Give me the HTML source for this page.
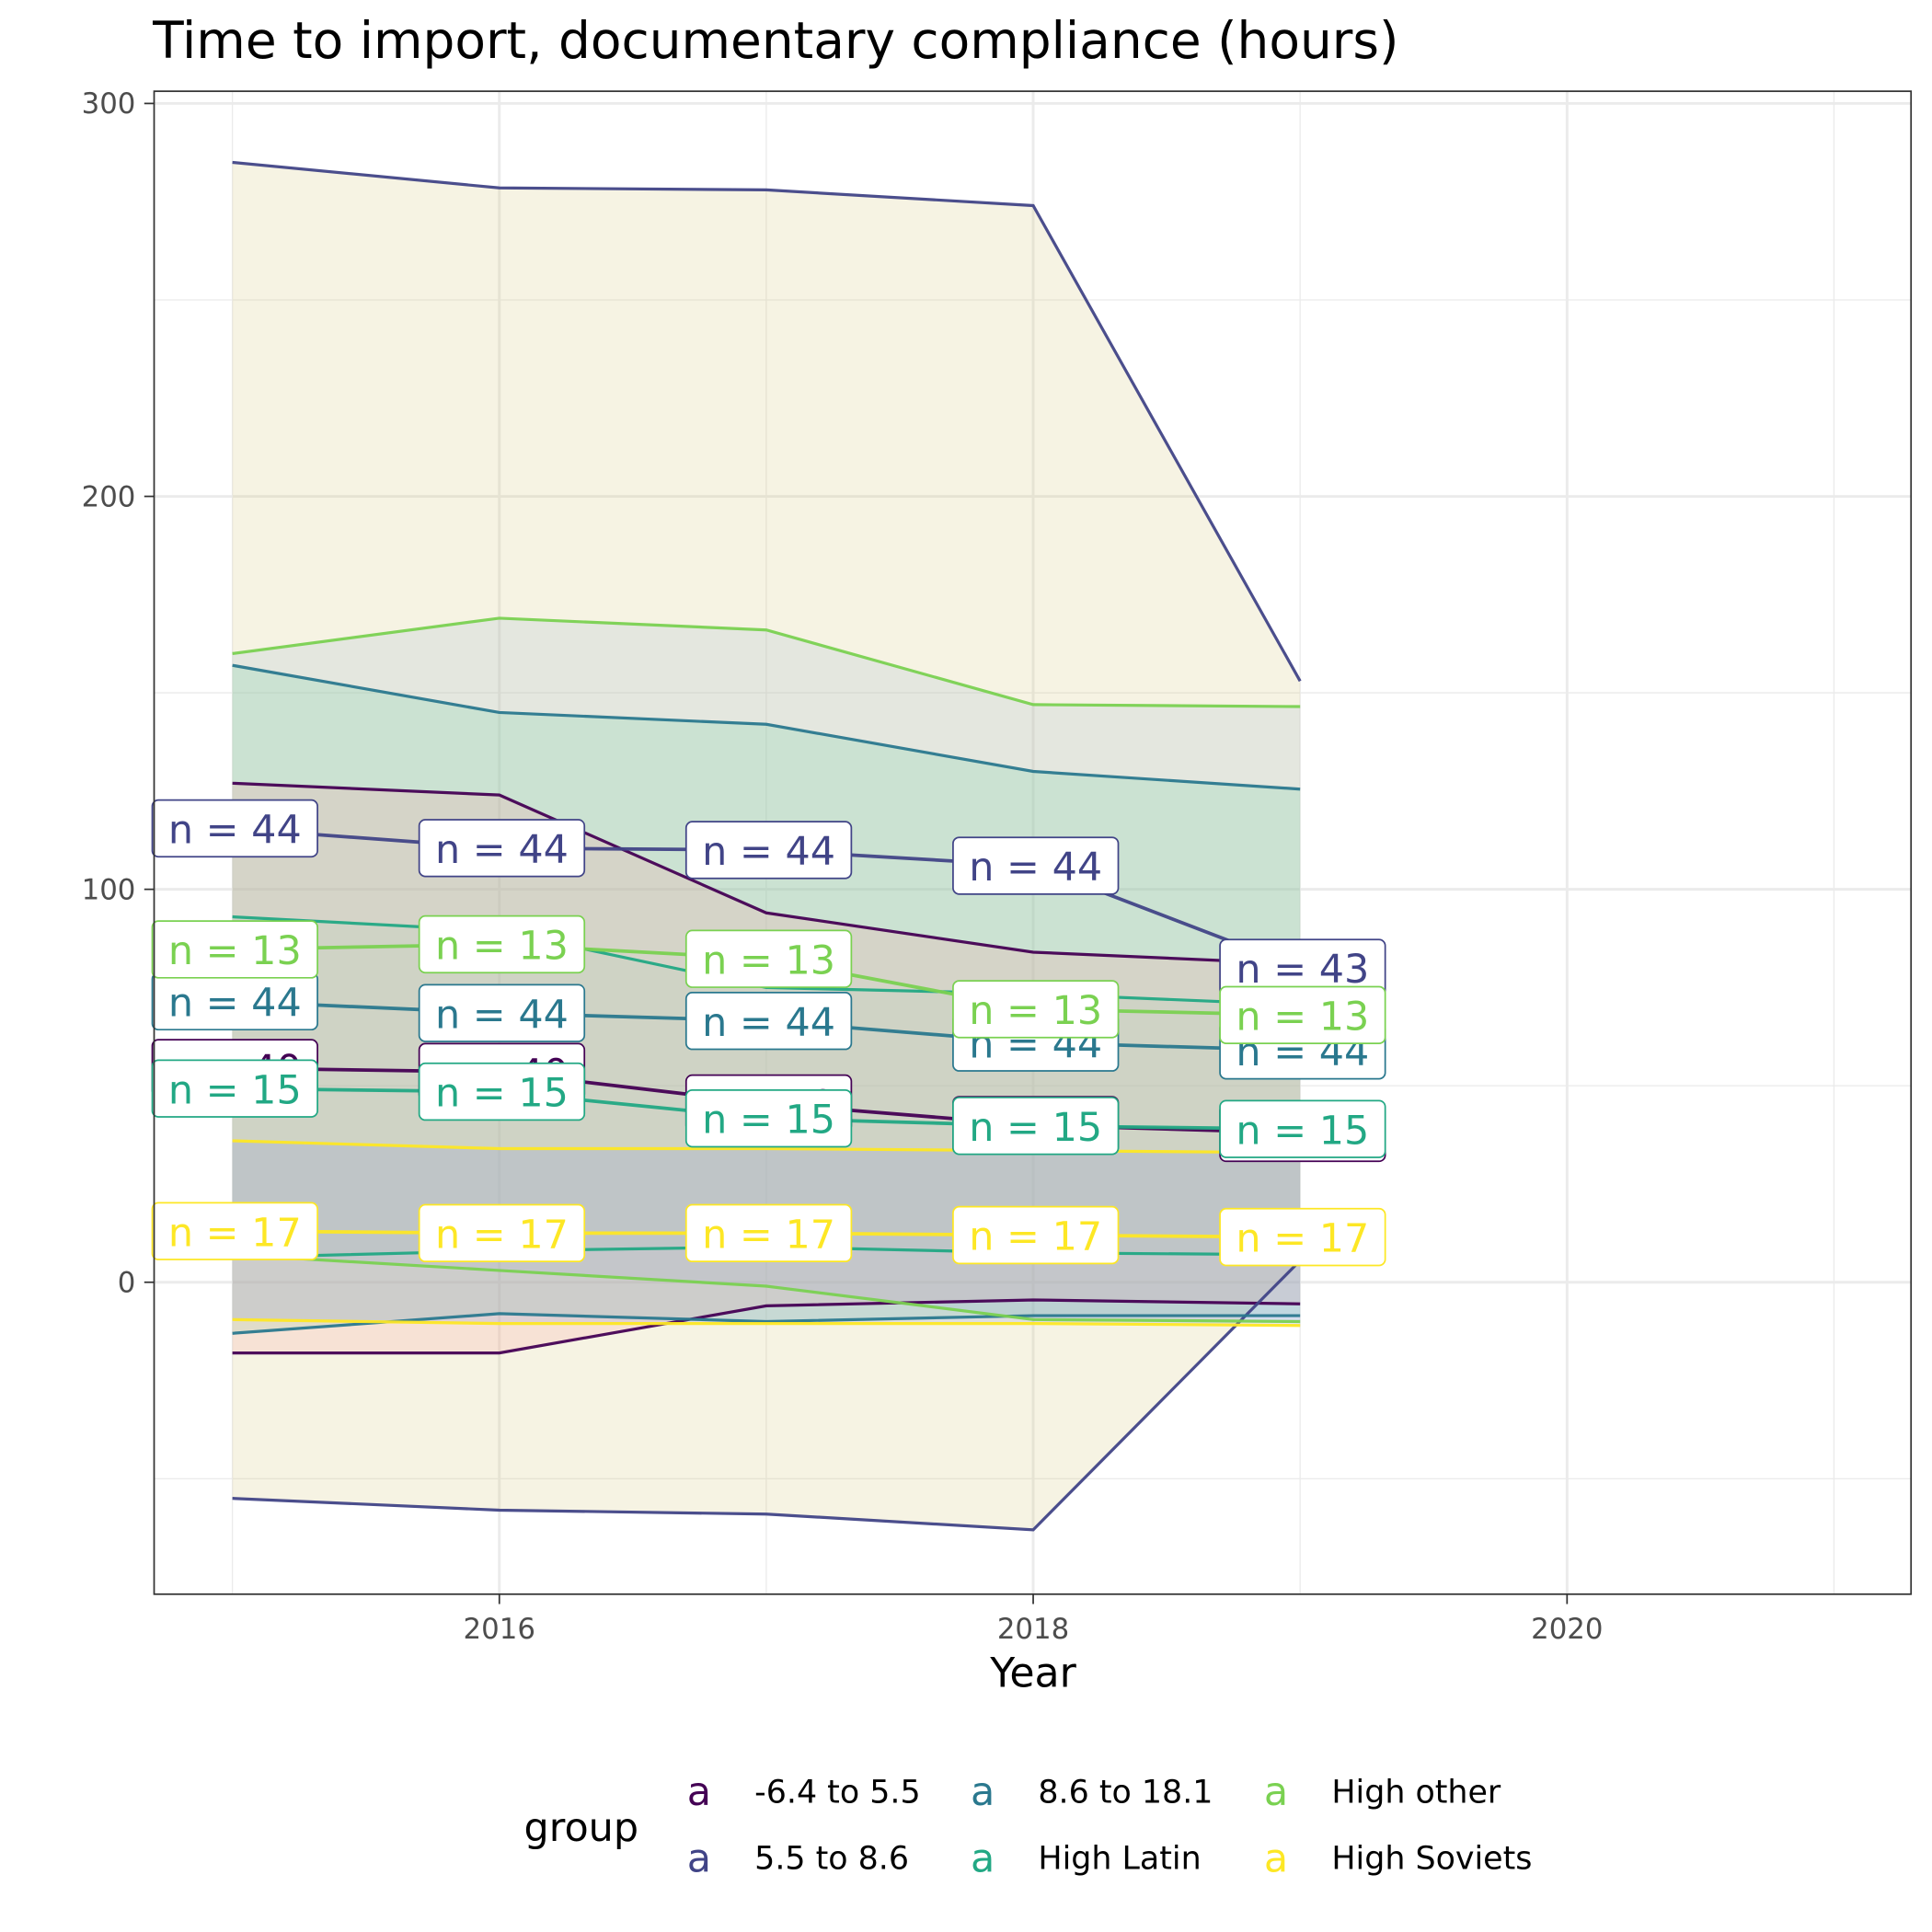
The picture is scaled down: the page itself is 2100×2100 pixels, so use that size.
<!DOCTYPE html>
<html><head><meta charset="utf-8"><style>
html,body{margin:0;padding:0;background:#fff}
svg{display:block;font-family:"Liberation Sans","DejaVu Sans",sans-serif}
</style></head><body>
<svg id="chart" width="2100" height="2100" viewBox="0 0 1567 1567" xmlns="http://www.w3.org/2000/svg">
<text x="124" y="47" font-size="41" fill="#000" font-family="DejaVu Sans, sans-serif">Time to import, documentary compliance (hours)</text>
<g id="grid"></g>
<g id="ribbons"></g>
<g id="lines"></g>
<g id="labels"></g>
<rect x="125" y="74" width="1425" height="1219" fill="none" stroke="#333" stroke-width="1.3"/>
<g id="axes"></g>
<text x="838" y="1368" font-size="33" text-anchor="middle" font-family="DejaVu Sans, sans-serif">Year</text>
<g id="legend" font-family="DejaVu Sans, sans-serif"></g>
</svg>
<script>
const years = [2015, 2016, 2017, 2018, 2019];
const groups = ["-6.4 to 5.5", "5.5 to 8.6", "8.6 to 18.1", "High Latin", "High other", "High Soviets"];
const colors = ["#440154", "#414487", "#2a788e", "#22a884", "#7ad151", "#fde725"];
const upperA = [127, 124, 94, 84, 81];
const lowerA = [-18, -18, -6, -4.5, -5.5];
const meanA = [54.5, 53.5, 45.5, 40, 38];
const nA = [40, 40, 40, 40, 40];
const upperB = [285, 278.5, 278, 274, 153];
const lowerB = [-55, -58, -59, -63, 5.5];
const meanB = [115.5, 110.5, 110, 106, 80];
const nB = [44, 44, 44, 44, 43];
const upperC = [157, 145, 142, 130, 125.5];
const lowerC = [-13, -8, -10, -8.5, -8.5];
const meanC = [71.5, 68.5, 66.5, 61, 59];
const nC = [44, 44, 44, 44, 44];
const upperD = [93, 89.4, 75, 73.4, 70.6];
const lowerD = [6.3, 8, 9, 7.5, 7];
const meanD = [49.3, 48.5, 41.7, 39.8, 39];
const nD = [15, 15, 15, 15, 15];
const upperE = [160, 169, 166, 147, 146.5];
const lowerE = [7, 3, -1, -9.5, -10];
const meanE = [84.7, 86, 82.3, 69.5, 68];
const nE = [13, 13, 13, 13, 13];
const upperF = [36, 34, 34, 33.5, 33];
const lowerF = [-9.5, -10.5, -10.5, -10.5, -11];
const meanF = [13, 12.5, 12.5, 12, 11.5];
const nF = [17, 17, 17, 17, 17];
const yTicks = [0, 100, 200, 300];
const yMinor = [-50, 50, 150, 250];
const xTicks = [2016, 2018, 2020];
const xMinor = [2015, 2017, 2019, 2021];

const series = [
 {u:upperA,l:lowerA,m:meanA,n:nA,fill:"#fea0a0",op:0.2},
 {u:upperB,l:lowerB,m:meanB,n:nB,fill:"#d4c374",op:0.2},
 {u:upperC,l:lowerC,m:meanC,n:nC,fill:"#6ad4a0",op:0.2},
 {u:upperD,l:lowerD,m:meanD,n:nD,fill:"#9ad0b0",op:0.1},
 {u:upperE,l:lowerE,m:meanE,n:nE,fill:"#a0b8d0",op:0.2},
 {u:upperF,l:lowerF,m:meanF,n:nF,fill:"#8090d0",op:0.2}
];
const fillOrder = [1, 4, 2, 0, 3, 5];

const X = v => 405 + (v - 2016) * 216.5;
const Y = v => 1040 - v * 3.187;
const NS = "http://www.w3.org/2000/svg";
function mk(tag, attrs, parent){const e=document.createElementNS(NS,tag);for(const k in attrs)e.setAttribute(k,attrs[k]);parent.appendChild(e);return e;}

const grid=document.getElementById('grid');
mk('rect',{x:125,y:74,width:1425,height:1219,fill:'#fff'},grid);
yMinor.forEach(v=>{const e=mk('line',{x1:125,x2:1550,y1:Y(v),y2:Y(v),stroke:'#ebebeb','stroke-width':1},grid);

});
xMinor.forEach(v=>{const e=mk('line',{x1:X(v),x2:X(v),y1:74,y2:1293,stroke:'#ebebeb','stroke-width':1},grid);

});
yTicks.forEach(v=>{const e=mk('line',{x1:125,x2:1550,y1:Y(v),y2:Y(v),stroke:'#ebebeb','stroke-width':2.2},grid);

});
xTicks.forEach(v=>{const e=mk('line',{x1:X(v),x2:X(v),y1:74,y2:1293,stroke:'#ebebeb','stroke-width':2.2},grid);

});

const rib=document.getElementById('ribbons');
fillOrder.forEach(i=>{const s=series[i];
 let d='M'+years.map((yr,j)=>X(yr)+','+Y(s.u[j])).join('L');
 d+='L'+years.slice().reverse().map((yr,j)=>X(yr)+','+Y(s.l[years.length-1-j])).join('L')+'Z';
 const p=mk('path',{d:d,fill:s.fill,'fill-opacity':s.op},rib);
 
 
});

const lines=document.getElementById('lines');
series.forEach((s,i)=>{
 [s.u,s.l,s.m].forEach((arr,k)=>{
  const p=mk('polyline',{points:years.map((yr,j)=>X(yr)+','+Y(arr[j])).join(' '),fill:'none',stroke:colors[i],'stroke-width':k==2?2.8:2.4,'stroke-opacity':0.95},lines);
  
  
 });
});

const labs=document.getElementById('labels');
series.forEach((s,i)=>{
 years.forEach((yr,j)=>{
  const cx=X(yr)+2, cy=Y(s.m[j]);
  const g=mk('g',{},labs);
  
  
  mk('rect',{x:cx-67,y:cy-23,width:134,height:46,rx:5,fill:'#fff',stroke:colors[i],'stroke-width':1.3},g);
  const t=mk('text',{x:cx,y:cy+12,'font-size':32,'text-anchor':'middle',fill:colors[i],'font-family':'DejaVu Sans, sans-serif'},g);
  t.textContent='n = '+s.n[j];
 });
});

const ax=document.getElementById('axes');
yTicks.forEach(v=>{mk('line',{x1:117,x2:125,y1:Y(v),y2:Y(v),stroke:'#333','stroke-width':1.3},ax);
 const t=mk('text',{x:110,y:Y(v)+8,'font-size':23,'text-anchor':'end',fill:'#4d4d4d','font-family':'DejaVu Sans, sans-serif'},ax);
 
 
 t.textContent=v;});
xTicks.forEach(v=>{mk('line',{x1:X(v),x2:X(v),y1:1293,y2:1301,stroke:'#333','stroke-width':1.3},ax);
 const t=mk('text',{x:X(v),y:1329,'font-size':23,'text-anchor':'middle',fill:'#4d4d4d','font-family':'DejaVu Sans, sans-serif'},ax);
 
 
 t.textContent=v;});

const leg=document.getElementById('legend');
const lt=mk('text',{x:425,y:1493,'font-size':32},leg);


lt.textContent='group';
const colX=[567,797,1035], rowY=[1453,1507];
groups.forEach((gname,i)=>{
 const c=Math.floor(i/2), r=i%2;
 const g=mk('g',{},leg);
 
 
 const k=mk('text',{x:colX[c],y:rowY[r]+11,'font-size':32,'text-anchor':'middle',fill:colors[i]},g);
 k.textContent='a';
 const t=mk('text',{x:colX[c]+45,y:rowY[r]+9,'font-size':26,fill:'#000'},g);
 t.textContent=gname;
});
</script>
</body></html>
